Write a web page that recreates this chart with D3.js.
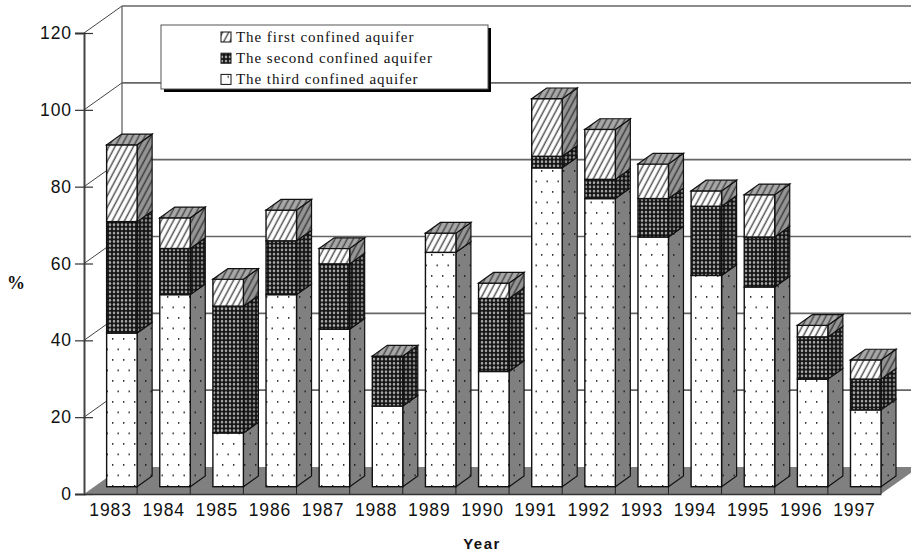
<!DOCTYPE html>
<html>
<head>
<meta charset="utf-8">
<script src="https://cdn.jsdelivr.net/npm/d3@7"></script>
<style>
html, body { margin: 0; padding: 0; background: #fff; }
svg { display: block; }
.tick-label { font-family: "Liberation Sans", Arial, sans-serif; font-size: 17.5px; letter-spacing: 0.9px; fill: #111; }
.legend-text { font-family: "Liberation Serif", "Times New Roman", serif; font-size: 15px; letter-spacing: 0.95px; fill: #111; }
</style>
</head>
<body>
<div id="chart"></div>
<script>
const WIDTH = 911;
const HEIGHT = 559;

var years = ["1983", "1984", "1985", "1986", "1987", "1988", "1989", "1990", "1991", "1992", "1993", "1994", "1995", "1996", "1997"];
var thirdAquifer = [40, 50, 14, 50, 41, 21, 61, 30, 83, 75, 65, 55, 52, 28, 20];
var secondAquifer = [29, 12, 33, 14, 17, 13, 0, 19, 3, 5, 10, 18, 13, 11, 8];
var firstAquifer = [20, 8, 7, 8, 4, 0, 5, 4, 15, 13, 9, 4, 11, 3, 5];
var yTicks = [0, 20, 40, 60, 80, 100, 120];
var legendLabels = ["The first confined aquifer", "The second confined aquifer", "The third confined aquifer"];
var legendFills = ["hatch", "dark", "dots"];

// oblique offsets of the 3D box
const WALL_DX = 38, WALL_DY = 27;
const BAR_DX = 15, BAR_DY = 10.7;
const BAR_WIDTH = 30.5;
const BAR_LIFT = 7.3;

var translate = function (x, y) {
	return "translate(" + x + "," + y + ")";
};

var xScale = d3.scaleBand().domain(years).range([84, 881]);
var yScale = d3.scaleLinear().domain([0, 120]).range([494, 33]);

var svg = d3.select("#chart").append("svg")
	.attr("width", WIDTH)
	.attr("height", HEIGHT);

var addPattern = function (id, w, h, bg, draw, transform) {
	var p = svg.append("defs").append("pattern")
		.attr("id", id)
		.attr("patternUnits", "userSpaceOnUse")
		.attr("width", w)
		.attr("height", h);
	if (transform) p.attr("patternTransform", transform);
	p.append("rect").attr("width", w).attr("height", h).attr("fill", bg);
	draw(p);
};

var stripes = function (color, sw) {
	return function (p) {
		p.append("line").attr("x1", 3).attr("y1", 0).attr("x2", 3).attr("y2", 7)
			.attr("stroke", color).attr("stroke-width", sw);
	};
};
var holes = function (color) {
	return function (p) {
		p.append("ellipse").attr("cx", 2).attr("cy", 2.1).attr("rx", 1.25).attr("ry", 1.4).attr("fill", color);
	};
};
var specks = function (color) {
	return function (p) {
		p.append("rect").attr("x", 2).attr("y", 2).attr("width", 1.4).attr("height", 1.8).attr("fill", color);
		p.append("rect").attr("x", 13).attr("y", 2).attr("width", 1.4).attr("height", 1.8).attr("fill", color);
		p.append("rect").attr("x", 7.5).attr("y", 12.5).attr("width", 1.4).attr("height", 1.8).attr("fill", color);
		p.append("rect").attr("x", 18.5).attr("y", 12.5).attr("width", 1.4).attr("height", 1.8).attr("fill", color);
	};
};

addPattern("hatch", 5.4, 7, "#fff", stripes("#555", 1.5), "rotate(28)");
addPattern("hatch-side", 5.4, 7, "#959595", stripes("#3c3c3c", 1.5), "rotate(28)");
addPattern("hatch-top", 5.4, 7, "#a8a8a8", stripes("#4a4a4a", 1.5), "rotate(28)");
addPattern("dark", 4, 4.2, "#151515", holes("#a8a8a8"));
addPattern("dark-side", 4, 4.2, "#151515", holes("#888"));
addPattern("dots", 22, 21, "#fff", specks("#333"));
addPattern("dots-side", 22, 21, "#808080", specks("#222"));

// back wall
var wallLeft = 84 + WALL_DX;
var gridColor = "#666";

svg.append("line")
	.attr("x1", wallLeft).attr("x2", wallLeft)
	.attr("y1", yScale(120) - WALL_DY).attr("y2", yScale(0) - WALL_DY)
	.attr("stroke", "#777").attr("stroke-width", 1.5);

svg.append("g").selectAll("line.grid")
	.data(yTicks.slice(1))
	.enter().append("line")
	.attr("x1", wallLeft).attr("x2", WIDTH)
	.attr("y1", function (d) { return yScale(d) - WALL_DY; })
	.attr("y2", function (d) { return yScale(d) - WALL_DY; })
	.attr("stroke", gridColor).attr("stroke-width", 1.6);

svg.append("g").selectAll("line.diag")
	.data(yTicks.slice(1))
	.enter().append("line")
	.attr("x1", 84).attr("x2", wallLeft)
	.attr("y1", function (d) { return yScale(d); })
	.attr("y2", function (d) { return yScale(d) - WALL_DY; })
	.attr("stroke", "#444").attr("stroke-width", 1);

// floor
var floorRight = xScale.range()[1];
svg.append("polygon")
	.attr("points", [
		[84, yScale(0)],
		[floorRight, yScale(0)],
		[floorRight + WALL_DX, yScale(0) - WALL_DY],
		[wallLeft, yScale(0) - WALL_DY]
	].join(" "))
	.attr("fill", "#808080");

// x axis
var xAxis = d3.axisBottom(xScale).tickSize(0).tickPadding(10);
var xg = svg.append("g").attr("transform", translate(0, yScale(0))).call(xAxis);
xg.select(".domain").attr("stroke", "#333").attr("stroke-width", 1.6);
xg.selectAll("text").attr("class", "tick-label").attr("font-family", null).attr("font-size", null);

svg.append("g").selectAll("line.xtick")
	.data(years)
	.enter().append("line")
	.attr("x1", function (d) { return xScale(d) + xScale.step(); })
	.attr("x2", function (d) { return xScale(d) + xScale.step(); })
	.attr("y1", yScale(0))
	.attr("y2", yScale(0) - BAR_LIFT)
	.attr("stroke", "#222").attr("stroke-width", 1);

// stacked boxes
var stack = d3.stack().keys(["third", "second", "first"]);
var rows = years.map(function (y, i) {
	return { year: y, third: thirdAquifer[i], second: secondAquifer[i], first: firstAquifer[i] };
});
var layers = stack(rows);
var fillKeys = { third: "dots", second: "dark", first: "hatch" };

var barRight = function (year) { return xScale(year) + xScale.step(); };
var barY = function (v) { return yScale(v) - BAR_LIFT; };

rows.forEach(function (row, i) {
	var g = svg.append("g");
	var segs = layers.map(function (l) {
		return { key: l.key, y0: l[i][0], y1: l[i][1] };
	}).filter(function (s) { return s.y1 > s.y0; });

	var x1 = barRight(row.year);
	var x0 = x1 - BAR_WIDTH;

	g.selectAll("polygon.side")
		.data(segs)
		.enter().append("polygon")
		.attr("points", function (s) {
			return [
				[x1, barY(s.y0)],
				[x1 + BAR_DX, barY(s.y0) - BAR_DY],
				[x1 + BAR_DX, barY(s.y1) - BAR_DY],
				[x1, barY(s.y1)]
			].join(" ");
		})
		.attr("fill", function (s) { return "url(#" + fillKeys[s.key] + "-side)"; })
		.attr("stroke", "#111").attr("stroke-width", 1.2);

	g.selectAll("rect.front")
		.data(segs)
		.enter().append("rect")
		.attr("x", x0)
		.attr("width", BAR_WIDTH)
		.attr("y", function (s) { return barY(s.y1); })
		.attr("height", function (s) { return barY(s.y0) - barY(s.y1); })
		.attr("fill", function (s) { return "url(#" + fillKeys[s.key] + ")"; })
		.attr("stroke", "#111").attr("stroke-width", 1.4);

	var top = segs[segs.length - 1].y1;
	g.append("polygon")
		.attr("points", [
			[x0, barY(top)],
			[x1, barY(top)],
			[x1 + BAR_DX, barY(top) - BAR_DY],
			[x0 + BAR_DX, barY(top) - BAR_DY]
		].join(" "))
		.attr("fill", "url(#hatch-top)")
		.attr("stroke", "#111").attr("stroke-width", 1.2);
});

// y axis
var yAxis = d3.axisLeft(yScale).tickValues(yTicks).tickSize(9).tickPadding(3);
var yg = svg.append("g").attr("transform", translate(84, 0)).call(yAxis);
yg.select(".domain").attr("stroke", "#444").attr("stroke-width", 2);
yg.selectAll(".tick line").attr("x2", 9).attr("x1", -9).attr("stroke", "#333").attr("stroke-width", 1.2);
yg.selectAll("text").attr("class", "tick-label").attr("font-family", null).attr("font-size", null);

// axis titles
svg.append("text")
	.attr("x", 482).attr("y", 549)
	.attr("text-anchor", "middle")
	.style("font-family", "'Liberation Sans', Arial, sans-serif")
	.style("font-size", "15px").style("font-weight", "bold").style("letter-spacing", "1.5px")
	.attr("fill", "#111")
	.text("Year");

svg.append("text")
	.attr("x", 16).attr("y", 289)
	.attr("text-anchor", "middle")
	.style("font-family", "'Liberation Serif', 'Times New Roman', serif")
	.style("font-size", "18px").style("font-weight", "bold")
	.attr("fill", "#111")
	.text("%");

// legend
var legend = svg.append("g");
legend.append("rect")
	.attr("x", 164).attr("y", 28).attr("width", 327).attr("height", 64)
	.attr("fill", "#000");
legend.append("rect")
	.attr("x", 161).attr("y", 25).attr("width", 327).attr("height", 64)
	.attr("fill", "#fff").attr("stroke", "#555").attr("stroke-width", 1);

var legendRow = legend.selectAll("g.row")
	.data(legendLabels)
	.enter().append("g")
	.attr("transform", function (d, i) { return translate(0, 42 + i * 21.2); });

legendRow.append("rect")
	.attr("x", 221).attr("y", -10).attr("width", 10).attr("height", 10)
	.attr("fill", function (d, i) { return "url(#" + legendFills[i] + ")"; })
	.attr("stroke", "#111").attr("stroke-width", 1);

legendRow.append("text")
	.attr("class", "legend-text")
	.attr("x", 236).attr("y", 0)
	.text(function (d) { return d; });
</script>
</body>
</html>
